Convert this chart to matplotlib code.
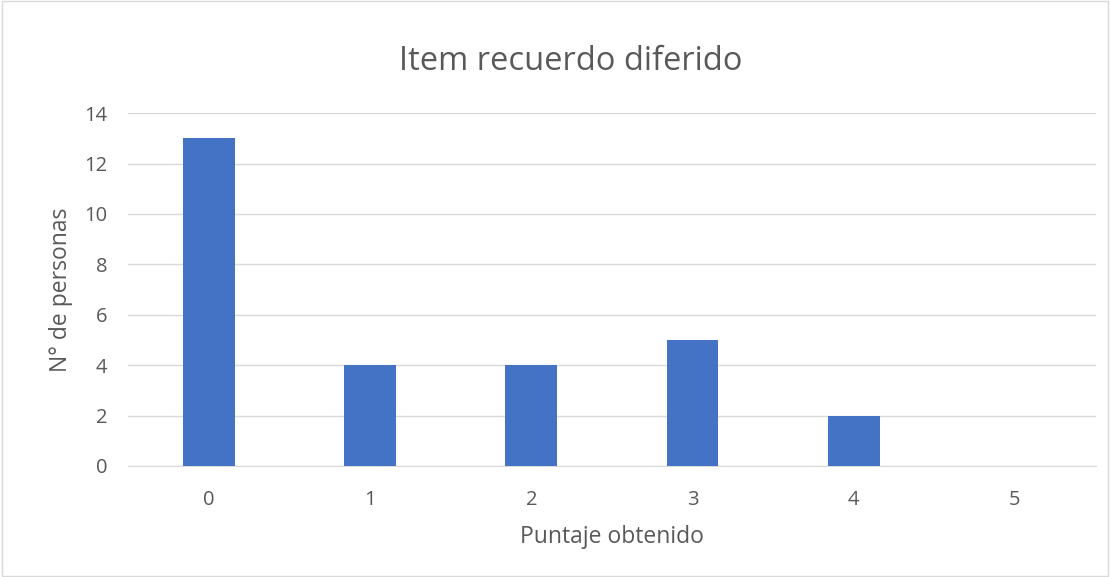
import matplotlib
matplotlib.use("Agg")
import matplotlib.pyplot as plt
from matplotlib.patches import Rectangle

categories = ["0", "1", "2", "3", "4", "5"]
values = [13, 4, 4, 5, 2, 0]
yticks = [0, 2, 4, 6, 8, 10, 12, 14]

plt.rcParams['font.family'] = ['Open Sans', 'DejaVu Sans']

fig = plt.figure(figsize=(11.1, 5.77), dpi=100)
ax = fig.add_axes([0.1155, 0.1924, 0.8715, 0.6116])
fig.patches.append(Rectangle((0.002, 0.002), 0.996, 0.996, transform=fig.transFigure,
                             fill=False, edgecolor="#d9d9d9", linewidth=1))

x = list(range(len(categories)))
ax.bar(x, values, width=0.32, color="#4472C4", zorder=3)
ax.set_xlim(-0.5, len(categories) - 0.5)
ax.set_ylim(0, 14)
ax.set_yticks(yticks)
ax.set_xticks(x)
ax.set_xticklabels(categories)
ax.grid(axis="y", color="#d9d9d9", linewidth=1, zorder=0)
for s in ["top", "right", "left"]:
    ax.spines[s].set_visible(False)
ax.spines["bottom"].set_color("#d9d9d9")
ax.tick_params(axis="both", length=0, labelsize=14.5, colors="#595959")
ax.tick_params(axis="y", pad=15)
ax.tick_params(axis="x", pad=17)
ax.set_xlabel("Puntaje obtenido", fontsize=16.5, color="#595959", labelpad=11)
ax.set_ylabel("N° de personas", fontsize=16.5, color="#595959", labelpad=8)
fig.text(0.514, 0.893, "Item recuerdo diferido", ha="center", va="center",
         fontsize=23.5, color="#595959")

fig.savefig("out.png", dpi=100)
